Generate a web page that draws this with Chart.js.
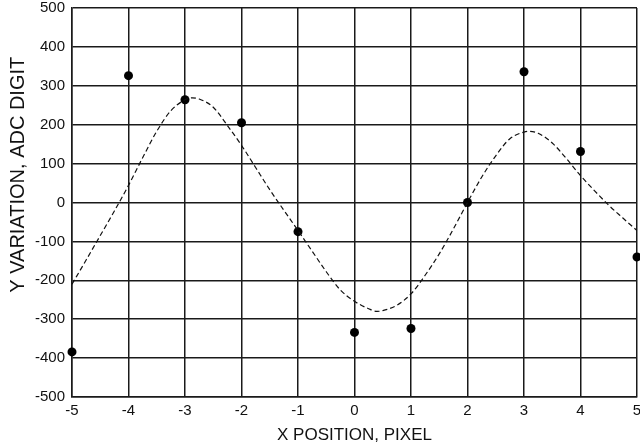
<!DOCTYPE html>
<html>
<head>
<meta charset="utf-8">
<script src="https://cdn.jsdelivr.net/npm/chart.js@4/dist/chart.umd.min.js"></script>
<style>
  html, body { margin: 0; padding: 0; background: #fff; }
  #wrap { width: 640px; height: 448px; }
</style>
</head>
<body>
<div id="wrap"><canvas id="c" width="640" height="448"></canvas></div>
<script>
// Measured points (x position, y variation)
const pointX = [-5, -4, -3, -2, -1, 0, 1, 2, 3, 4, 5];
const pointY = [-384, 326, 264, 205, -75, -334, -324, 0, 336, 131, -140];

// Fitted dashed curve
const curveX = [-5, -4.75, -4.5, -4.25, -4, -3.75, -3.5, -3.25, -3, -2.87, -2.75, -2.5, -2.25, -2, -1.75, -1.5, -1.25, -1, -0.75, -0.5, -0.25, 0, 0.25, 0.4, 0.5, 0.75, 1, 1.25, 1.5, 1.75, 2, 2.25, 2.5, 2.75, 3, 3.1, 3.25, 3.5, 3.75, 4, 4.25, 4.5, 4.75, 5];
const curveY = [-210, -148, -85, -22, 44, 115, 183, 236, 264, 269, 266, 245, 198, 147, 90, 33, -20, -72, -125, -178, -225, -254, -273, -280, -278, -264, -235, -187, -132, -68, 0, 65, 120, 164, 181, 183, 178, 153, 113, 69, 30, -7, -40, -72];

// Axis ticks
const xTicks = [-5, -4, -3, -2, -1, 0, 1, 2, 3, 4, 5];
const yTicks = [-500, -400, -300, -200, -100, 0, 100, 200, 300, 400, 500];

const xTitle = 'X POSITION, PIXEL';
const yTitle = '          Y VARIATION, ADC DIGIT';

const FONT = '"Liberation Sans", Arial, sans-serif';
const GRID = '#1a1a1a';

new Chart(document.getElementById('c'), {
  type: 'scatter',
  data: {
    datasets: [
      {
        label: 'curve',
        data: curveX.map((x, i) => ({ x, y: curveY[i] })),
        showLine: true,
        borderColor: '#111',
        borderWidth: 1.2,
        borderDash: [5, 3],
        pointRadius: 0,
        cubicInterpolationMode: 'monotone',
        fill: false
      },
      {
        label: 'points',
        data: pointX.map((x, i) => ({ x, y: pointY[i] })),
        showLine: false,
        pointRadius: 4.5,
        pointBackgroundColor: '#000',
        pointBorderColor: '#000',
        pointBorderWidth: 0,
        clip: false
      }
    ]
  },
  options: {
    responsive: false,
    animation: false,
    devicePixelRatio: 1,
    layout: { autoPadding: false, padding: { top: 8, right: 3, left: 0, bottom: 0 } },
    plugins: { legend: { display: false }, tooltip: { enabled: false } },
    scales: {
      x: {
        type: 'linear',
        min: -5, max: 5,
        afterFit: (s) => { s.height = 51; s.paddingLeft = 0; s.paddingRight = 0; },
        afterBuildTicks: (s) => { s.ticks = xTicks.map(v => ({ value: v })); },
        grid: { color: GRID, lineWidth: 1.5, drawTicks: false },
        border: { display: true, color: GRID, width: 1.5 },
        ticks: { color: '#111', padding: 5, font: { family: FONT, size: 15 }, callback: (v) => String(v) },
        title: { display: true, text: xTitle, color: '#111', font: { family: FONT, size: 17 }, padding: { top: 0, bottom: 2 } }
      },
      y: {
        type: 'linear',
        min: -500, max: 500,
        afterFit: (s) => { s.width = 72; s.paddingTop = 0; s.paddingBottom = 0; },
        afterBuildTicks: (s) => { s.ticks = yTicks.map(v => ({ value: v })); },
        grid: { color: GRID, lineWidth: 1.5, drawTicks: false },
        border: { display: true, color: GRID, width: 1.5 },
        ticks: { color: '#111', padding: 7, font: { family: FONT, size: 15 }, callback: (v) => String(v) },
        title: { display: true, text: yTitle, color: '#111', font: { family: FONT, size: 20 }, padding: { top: 6, bottom: 0 } }
      }
    }
  }
});
</script>
</body>
</html>
